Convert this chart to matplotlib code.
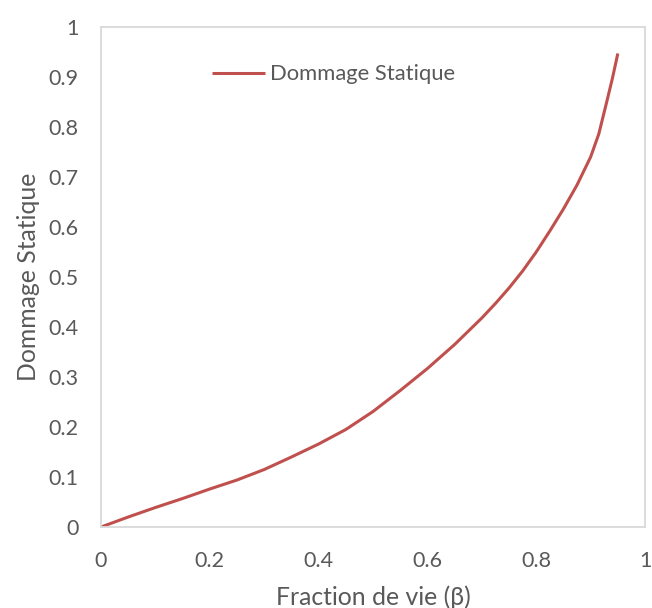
import matplotlib.pyplot as plt
import numpy as np

# Valeurs
beta = [0, 0.05, 0.1, 0.15, 0.2, 0.25, 0.3, 0.35, 0.4, 0.45, 0.5, 0.55, 0.6,
        0.65, 0.7, 0.725, 0.75, 0.775, 0.8, 0.825, 0.85, 0.875, 0.9, 0.915,
        0.93, 0.94, 0.95]
dommage = [0, 0.02, 0.039, 0.057, 0.076, 0.094, 0.115, 0.14, 0.166, 0.195, 0.231,
           0.273, 0.317, 0.365, 0.418, 0.447, 0.478, 0.512, 0.55, 0.592, 0.636,
           0.684, 0.74, 0.786, 0.852, 0.897, 0.947]

xticks = [0, 0.2, 0.4, 0.6, 0.8, 1]
yticks = [0, 0.1, 0.2, 0.3, 0.4, 0.5, 0.6, 0.7, 0.8, 0.9, 1]

plt.rcParams['font.family'] = ['Lato', 'DejaVu Sans']
gris = '#595959'

fig = plt.figure(figsize=(6.52, 6.08), dpi=100)
ax = fig.add_axes([0.1549, 0.1332, 0.8344, 0.8224])

ax.plot(beta, dommage, color='#C0504D', lw=2.2, label='Dommage Statique',
        solid_capstyle='butt', solid_joinstyle='round')

ax.set_xlim(0, 1)
ax.set_ylim(0, 1)
ax.set_xticks(xticks)
ax.set_yticks(yticks)
ax.set_xticklabels([f'{v:g}' for v in xticks])
ax.set_yticklabels([f'{v:g}' for v in yticks])
ax.tick_params(length=0, labelsize=15.5, colors=gris)
ax.tick_params(axis='y', pad=16)
ax.tick_params(axis='x', pad=17)

for s in ax.spines.values():
    s.set_color('#D9D9D9')
    s.set_linewidth(1.3)

ax.set_xlabel('Fraction de vie (β)', fontsize=17.8, color=gris, labelpad=11)
ax.set_ylabel('Dommage Statique', fontsize=17.8, color=gris, labelpad=6)

ax.legend(loc='center left', bbox_to_anchor=(0.167, 0.905), frameon=False,
          fontsize=15.8, labelcolor=gris, handlelength=2.45, handletextpad=0.2)

fig.savefig('out.png', dpi=100)
